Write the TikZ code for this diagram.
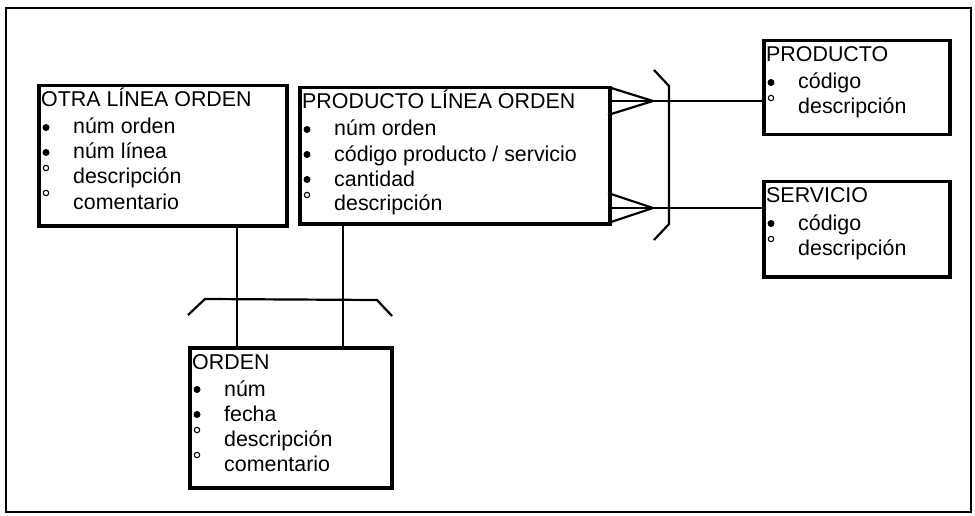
\documentclass[tikz,border=0pt]{standalone}
\usepackage{fontspec}
\setmainfont{Liberation Sans}
\begin{document}
\begin{tikzpicture}[x=1pt,y=-1pt,
  ebox/.style={draw, line width=3.5pt, rectangle, inner sep=0pt, anchor=north west},
  txt/.style={inner sep=0pt, anchor=base west, font=\fontsize{21.4}{25}\selectfont},
  fbul/.style={circle, fill, inner sep=0pt, minimum size=7pt},
  obul/.style={circle, draw, line width=1.1pt, inner sep=0pt, minimum size=5.4pt},
  conn/.style={line width=2.2pt},
  frame/.style={line width=1.8pt}]
\useasboundingbox (0,0) rectangle (975,516);
\draw[frame] (6,8) rectangle (971,512);

\newcommand\enttitle[2]{\node[txt] (#1-t) at ([xshift=4pt,yshift=-23pt]#1.north west) {#2};}
\newcommand\itm[4]{%
  \node[txt] (#1-#2) at ([xshift=36pt,yshift={-(25+25*#2)*1pt}]#1.north west) {#4};
  \ifx f#3
    \node[fbul] (#1-#2b) at ([xshift=9pt,yshift={-(25+25*#2-6.5)*1pt}]#1.north west) {};
  \else
    \node[obul] (#1-#2b) at ([xshift=9pt,yshift={-(25+25*#2-16)*1pt}]#1.north west) {};
  \fi}

% entities
\node[ebox, minimum width=248pt, minimum height=140pt] (otra) at (37,84) {};
\enttitle{otra}{OTRA LÍNEA ORDEN}
\itm{otra}{1}{f}{núm orden}
\itm{otra}{2}{f}{núm línea}
\itm{otra}{3}{o}{descripción}
\itm{otra}{4}{o}{comentario}

\node[ebox, minimum width=310pt, minimum height=136pt] (plo) at (298,86) {};
\enttitle{plo}{PRODUCTO LÍNEA ORDEN}
\itm{plo}{1}{f}{núm orden}
\itm{plo}{2}{f}{código producto / servicio}
\itm{plo}{3}{f}{cantidad}
\itm{plo}{4}{o}{descripción}

\node[ebox, minimum width=186pt, minimum height=94pt] (prod) at (762,39) {};
\enttitle{prod}{PRODUCTO}
\itm{prod}{1}{f}{código}
\itm{prod}{2}{o}{descripción}

\node[ebox, minimum width=186pt, minimum height=95pt] (serv) at (762,180) {};
\enttitle{serv}{SERVICIO}
\itm{serv}{1}{f}{código}
\itm{serv}{2}{o}{descripción}

\node[ebox, minimum width=202pt, minimum height=140pt] (orden) at (188,346) {};
\enttitle{orden}{ORDEN}
\itm{orden}{1}{f}{núm}
\itm{orden}{2}{f}{fecha}
\itm{orden}{3}{o}{descripción}
\itm{orden}{4}{o}{comentario}

% crow's feet to PRODUCTO / SERVICIO
\coordinate (a1) at (653,101);
\coordinate (a2) at (653,208);
\coordinate (p1t) at (608,87);
\coordinate (p1b) at (608,115);
\coordinate (p2t) at (608,193);
\coordinate (p2b) at (608,223);
\draw[conn] (p1t) -- (a1) -- (p1b);
\draw[conn] (a1 -| plo.east) -- (a1 -| prod.west);
\draw[conn] (p2t) -- (a2) -- (p2b);
\draw[conn] (a2 -| plo.east) -- (a2 -| serv.west);
% exclusive arc bracket
\coordinate (b1) at (654,70);
\coordinate (b2) at (669,86);
\coordinate (b3) at (669,224);
\coordinate (b4) at (654,240);
\draw[conn] (b1) -- (b2) -- (b3) -- (b4);

% lines to ORDEN
\coordinate (v1) at (237,0);
\coordinate (v2) at (343,0);
\draw[conn] (v1 |- otra.south) -- (v1 |- orden.north);
\draw[conn] (v2 |- plo.south) -- (v2 |- orden.north);
\coordinate (c1) at (188,315);
\coordinate (c2) at (205,299);
\coordinate (c3) at (377,300);
\coordinate (c4) at (392,316);
\draw[conn] (c1) -- (c2) -- (c3) -- (c4);
\end{tikzpicture}
\end{document}
